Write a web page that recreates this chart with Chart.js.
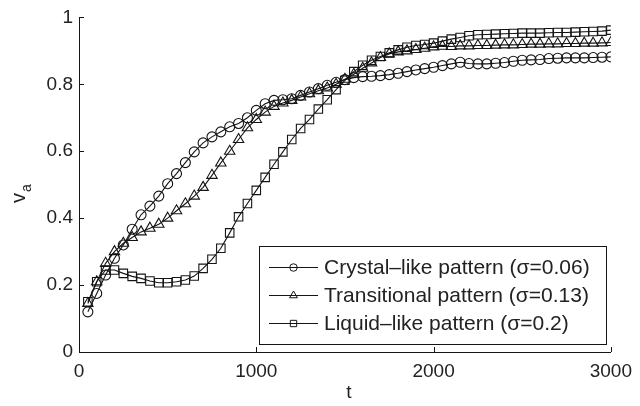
<!DOCTYPE html>
<html><head><meta charset="utf-8">
<script src="https://cdn.jsdelivr.net/npm/chart.js@4/dist/chart.umd.min.js"></script>
<style>html,body{margin:0;padding:0;background:#fff;}#wrap{width:640px;height:406px;}</style>
</head><body><div id="wrap"><canvas id="c" width="640" height="406"></canvas></div>
<script>
const times = [50,100,150,200,250,300,350,400,450,500,550,600,650,700,750,800,850,900,950,1000,
  1050,1100,1150,1200,1250,1300,1350,1400,1450,1500,1550,1600,1650,1700,1750,1800,1850,1900,1950,2000,
  2050,2100,2150,2200,2250,2300,2350,2400,2450,2500,2550,2600,2650,2700,2750,2800,2850,2900,2950,3000];
const crystal = [0.12,0.175,0.23,0.28,0.32,0.367,0.41,0.436,0.466,0.503,0.533,0.566,0.598,0.625,0.643,0.658,0.673,0.683,0.70,0.722,
  0.742,0.752,0.754,0.757,0.767,0.777,0.787,0.797,0.806,0.814,0.82,0.823,0.824,0.826,0.829,0.833,0.838,0.843,0.847,0.851,
  0.856,0.861,0.866,0.862,0.861,0.861,0.863,0.865,0.869,0.872,0.873,0.874,0.877,0.878,0.879,0.879,0.879,0.88,0.881,0.882];
const transitional = [0.145,0.21,0.265,0.30,0.325,0.342,0.359,0.37,0.382,0.40,0.422,0.443,0.466,0.492,0.528,0.565,0.60,0.635,0.67,0.695,
  0.717,0.734,0.744,0.752,0.762,0.772,0.781,0.789,0.80,0.815,0.83,0.848,0.864,0.88,0.891,0.897,0.90,0.904,0.908,0.912,
  0.914,0.913,0.915,0.915,0.916,0.916,0.917,0.918,0.918,0.919,0.92,0.92,0.921,0.921,0.922,0.922,0.923,0.923,0.924,0.925];
const liquid = [0.15,0.21,0.245,0.245,0.235,0.226,0.22,0.212,0.207,0.207,0.21,0.215,0.227,0.25,0.277,0.31,0.356,0.404,0.444,0.483,
  0.522,0.561,0.598,0.635,0.668,0.695,0.726,0.754,0.784,0.812,0.838,0.857,0.872,0.883,0.894,0.903,0.911,0.916,0.919,0.923,
  0.929,0.935,0.94,0.945,0.948,0.949,0.95,0.951,0.952,0.953,0.953,0.953,0.954,0.955,0.955,0.956,0.957,0.958,0.959,0.962];
const seriesLabels = ['Crystal\u2013like pattern (\u03c3=0.06)','Transitional pattern (\u03c3=0.13)','Liquid\u2013like pattern (\u03c3=0.2)'];
const xTicks = [0,1000,2000,3000];
const yTicks = [0,0.2,0.4,0.6,0.8,1];

const INK = '#141414';
const FONT = '"Liberation Sans", Arial, Helvetica, sans-serif';
const toXY = arr => arr.map((v,i)=>({x:times[i], y:v}));

function ds(label, data, style, r){
  return {label, data: toXY(data), borderColor: INK, borderWidth: 1.1, tension: 0,
    pointStyle: style, pointRadius: r, pointHoverRadius: r, pointBorderColor: INK,
    pointBackgroundColor: 'rgba(0,0,0,0)', pointBorderWidth: 1.1, fill: false};
}

const extras = {
  id: 'extras',
  afterDraw(chart){
    const ctx = chart.ctx, xs = chart.scales.x, ys = chart.scales.y, a = chart.chartArea;
    ctx.save();
    ctx.strokeStyle = INK; ctx.lineWidth = 1;
    ctx.beginPath();
    xTicks.forEach(t=>{ const px = Math.round(xs.getPixelForValue(t))+0.5; ctx.moveTo(px, a.bottom); ctx.lineTo(px, a.bottom-5); });
    yTicks.forEach(v=>{ const py = Math.round(ys.getPixelForValue(v))+0.5; ctx.moveTo(a.left, py); ctx.lineTo(a.left+5, py); });
    ctx.stroke();
    ctx.fillStyle = '#222';
    ctx.textAlign = 'center'; ctx.textBaseline = 'middle';
    ctx.font = '19px ' + FONT;
    ctx.fillText('t', 349, 393);
    ctx.save();
    ctx.translate(25, 197); ctx.rotate(-Math.PI/2);
    ctx.textAlign = 'left'; ctx.textBaseline = 'alphabetic';
    ctx.font = '20px ' + FONT;
    ctx.fillText('v', -6, 0);
    const vw = ctx.measureText('v').width;
    ctx.font = '14px ' + FONT;
    ctx.fillText('a', -6 + vw + 1, 6);
    ctx.restore();
    const L = 259.5, T = 246.5, W = 347, H = 98;
    ctx.fillStyle = '#fff'; ctx.fillRect(L, T, W, H);
    ctx.strokeStyle = INK; ctx.lineWidth = 1; ctx.strokeRect(L, T, W, H);
    const rows = [267, 295, 323];
    chart.data.datasets.forEach((d,i)=>{
      const y = rows[i];
      ctx.strokeStyle = INK; ctx.lineWidth = 1;
      ctx.beginPath(); ctx.moveTo(269, y+0.5); ctx.lineTo(318, y+0.5); ctx.stroke();
      ctx.fillStyle = 'rgba(0,0,0,0)';
      Chart.helpers.drawPoint(ctx, {pointStyle: d.pointStyle, radius: d.pointRadius*0.75, borderWidth: 1}, 293.5, y+0.5);
      ctx.fillStyle = '#222';
      ctx.font = '21px ' + FONT; ctx.textAlign = 'left'; ctx.textBaseline = 'middle';
      ctx.fillText(d.label, 324, y+1);
    });
    ctx.restore();
  }
};

new Chart(document.getElementById('c'), {
  type: 'line',
  data: { datasets: [
    ds(seriesLabels[0], crystal, 'circle', 5),
    ds(seriesLabels[1], transitional, 'triangle', 6),
    ds(seriesLabels[2], liquid, 'rect', 6)
  ]},
  options: {
    responsive: false, devicePixelRatio: 1, animation: false,
    layout: { padding: { left: 0, right: 26, top: 17, bottom: 0 } },
    plugins: { legend: { display: false }, tooltip: { enabled: false } },
    scales: {
      x: { type: 'linear', min: 0, max: 3000,
        afterFit(s){ s.height = 54; },
        afterBuildTicks(s){ s.ticks = xTicks.map(v=>({value:v})); },
        grid: { display: false, drawTicks: false },
        border: { display: true, color: INK, width: 1 },
        ticks: { color: '#222', font: { size: 19, family: FONT }, padding: 8, maxRotation: 0,
          callback: v => String(v) } },
      y: { min: 0, max: 1,
        afterFit(s){ s.width = 79; },
        afterBuildTicks(s){ s.ticks = yTicks.map(v=>({value:v})); },
        grid: { display: false, drawTicks: false },
        border: { display: true, color: INK, width: 1 },
        ticks: { color: '#222', font: { size: 19, family: FONT }, padding: 6,
          callback: v => String(Math.round(v*10)/10) } }
    }
  },
  plugins: [extras]
});
</script></body></html>
